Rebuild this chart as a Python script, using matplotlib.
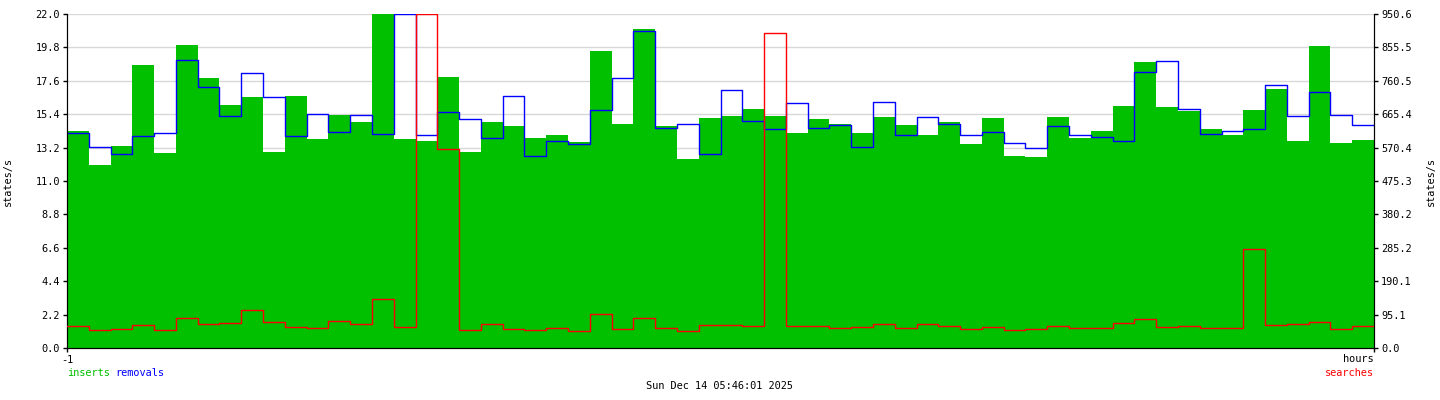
import matplotlib
matplotlib.use("Agg")
import matplotlib.pyplot as plt
import numpy as np

# one value per minute over the last hour
inserts = [14.27, 12.08, 13.31, 18.64, 12.85, 19.96, 17.79, 16.01, 16.53, 12.91,
           16.60, 13.77, 15.35, 14.89, 22.00, 13.77, 13.64, 17.85, 12.91, 14.87,
           14.62, 13.83, 14.03, 13.57, 19.57, 14.76, 21.00, 14.60, 12.45, 15.13,
           15.28, 15.74, 15.28, 14.16, 15.09, 14.74, 14.16, 15.22, 14.69, 14.03,
           14.87, 13.46, 15.15, 12.65, 12.60, 15.22, 13.86, 14.27, 15.94, 18.84,
           15.88, 15.61, 14.43, 14.03, 15.70, 17.06, 13.64, 19.89, 13.50, 13.68]
removals = [14.14, 13.24, 12.76, 13.94, 14.14, 18.95, 17.17, 15.26, 18.12, 16.51,
            13.94, 15.39, 14.21, 15.33, 14.08, 22.00, 14.01, 15.52, 15.07, 13.81,
            16.58, 12.63, 13.62, 13.42, 15.66, 17.77, 20.86, 14.47, 14.74, 12.76,
            16.97, 14.93, 14.43, 16.12, 14.47, 14.67, 13.24, 16.18, 14.01, 15.20,
            14.74, 14.01, 14.21, 13.48, 13.15, 14.60, 14.01, 13.88, 13.62, 18.18,
            18.89, 15.74, 14.08, 14.27, 14.43, 17.30, 15.26, 16.84, 15.33, 14.67]
searches = [61.8, 50.4, 53.2, 64.5, 50.4, 84.5, 67.4, 70.2, 107.2, 73.1,
            58.8, 56.0, 75.9, 67.4, 138.5, 58.8, 950.6, 565.5, 50.4, 67.4,
            53.2, 50.4, 56.0, 47.5, 95.9, 53.2, 84.5, 56.0, 47.5, 64.5,
            64.5, 61.8, 895.7, 61.8, 61.8, 56.0, 58.8, 67.4, 56.0, 67.4,
            61.8, 53.2, 58.8, 50.4, 53.2, 61.8, 56.0, 56.0, 70.2, 81.6,
            58.8, 61.8, 56.0, 56.0, 280.9, 64.5, 67.4, 73.1, 53.2, 61.8]

left_ticks = [0.0, 2.2, 4.4, 6.6, 8.8, 11.0, 13.2, 15.4, 17.6, 19.8, 22.0]
right_ticks = [0.0, 95.1, 190.1, 285.2, 380.2, 475.3, 570.4, 665.4, 760.5, 855.5, 950.6]

green = "#00c000"
fs = 7.4
mono = "DejaVu Sans Mono"
plt.rcParams["font.family"] = mono

fig = plt.figure(figsize=(14.4, 4.0), dpi=100)
ax = fig.add_axes([67 / 1440, 52 / 400, 1307 / 1440, 334 / 400])

n = len(inserts)
x = np.arange(n + 1)
ins = inserts + [inserts[-1]]
rem = removals + [removals[-1]]
sea = searches + [searches[-1]]

ax.fill_between(x, 0, ins, step="post", color=green, linewidth=0, zorder=2)
ax.plot(x, rem, drawstyle="steps-post", color="#0000ff", linewidth=1.0, zorder=3)

ax.set_xlim(0, n)
ax.set_ylim(0, 22.0)
ax.set_yticks(left_ticks)
ax.set_yticklabels(["%.1f" % v for v in left_ticks], fontsize=fs)
ax.yaxis.grid(True, color="#d8d8d8", linewidth=1, zorder=0)
ax.set_axisbelow(True)
ax.set_xticks([0, n])
ax.set_xticklabels(["-1", ""], fontsize=fs)
ax.tick_params(axis="both", length=3, width=1, pad=2)
ax.spines["top"].set_visible(False)

ax2 = ax.twinx()
ax2.plot(x, sea, drawstyle="steps-post", color="#ff0000", linewidth=1.0, zorder=4)
ax2.set_ylim(0, 950.6)
ax2.set_yticks(right_ticks)
ax2.set_yticklabels(["%.1f" % v for v in right_ticks], fontsize=fs)
ax2.tick_params(axis="y", length=3, width=1, pad=2)
ax2.spines["top"].set_visible(False)

fig.text(8 / 1440, 1 - 181 / 400, "states/s", rotation=90, ha="center", va="center", fontsize=fs)
fig.text(1431 / 1440, 1 - 181 / 400, "states/s", rotation=90, ha="center", va="center", fontsize=fs)
fig.text(1374 / 1440, 1 - 359 / 400, "hours", ha="right", va="center", fontsize=fs)
fig.text(67 / 1440, 1 - 373 / 400, "inserts", ha="left", va="center", fontsize=fs, color=green)
fig.text(115 / 1440, 1 - 373 / 400, "removals", ha="left", va="center", fontsize=fs, color="#0000ff")
fig.text(1374 / 1440, 1 - 373 / 400, "searches", ha="right", va="center", fontsize=fs, color="#ff0000")
fig.text(720 / 1440, 1 - 386 / 400, "Sun Dec 14 05:46:01 2025", ha="center", va="center", fontsize=fs)

fig.savefig("out.png", dpi=100)
